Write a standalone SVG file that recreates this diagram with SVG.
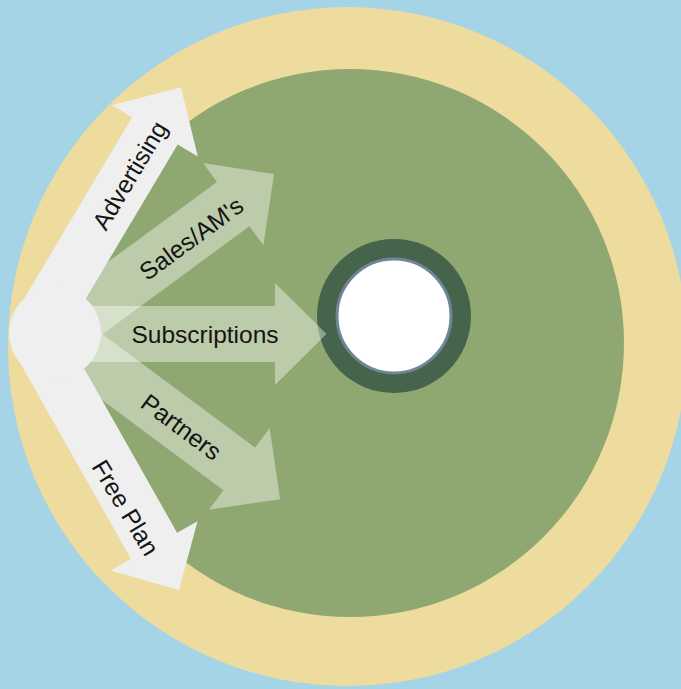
<svg xmlns="http://www.w3.org/2000/svg" width="681" height="689" viewBox="0 0 681 689">
  <style>
    .lbl { font-family: "Liberation Sans", Arial, sans-serif; font-size: 24.5px; fill: #141414; text-anchor: middle; }
    .solid { fill: #efefef; }
    .ghost { fill: #ffffff; fill-opacity: 0.4; }
  </style>
  <rect id="background" x="0" y="0" width="681" height="689" fill="#a4d4e6"/>
  <g id="outer-ring">
    <circle cx="347.5" cy="346.5" r="339.5" fill="#eedc9f"/>
  </g>
  <g id="inner-field">
    <circle cx="350" cy="343" r="274" fill="#8fa871"/>
  </g>
  <g id="target">
    <circle cx="394" cy="316" r="77" fill="#46634c"/>
    <circle cx="394" cy="316" r="57" fill="#ffffff" stroke="#6f8698" stroke-width="3"/>
  </g>
  <g id="connectors">
    <g id="sales" transform="translate(55,335) rotate(-36.3)">
      <polygon class="ghost" points="0,-27.5 221.1,-27.5 221.1,-51 271.8,0 221.1,51 221.1,27.5 0,27.5"/>
      <text class="lbl" x="167" y="11.5">Sales/AM's</text>
    </g>
    <g id="subscriptions" transform="translate(55,334)">
      <polygon class="ghost" points="0,-28 220,-28 220,-51 271.5,0 220,51 220,28 0,28"/>
      <text class="lbl" x="150" y="8.5">Subscriptions</text>
    </g>
    <g id="partners" transform="translate(55,332) rotate(36.6)">
      <polygon class="ghost" points="0,-26.6 229.5,-26.6 229.5,-51 280.4,0 229.5,51 229.5,26.6 0,26.6"/>
      <text class="lbl" x="158" y="9.5">Partners</text>
    </g>
    <g id="advertising" transform="translate(31.1,338.7) rotate(-59.22)">
      <polygon class="solid" points="17,-26.5 241.9,-26.5 241.9,-50 292.7,0 241.9,50 241.9,26.5 17,26.5"/>
    </g>
    <g id="free-plan" transform="translate(36.9,338.7) rotate(60.51)">
      <polygon class="solid" points="4,-26.5 237.9,-26.5 237.9,-50 288.7,0 237.9,50 237.9,26.5 4,26.5"/>
    </g>
  </g>
  <g id="hub">
    <circle cx="55" cy="333" r="46" fill="#efefef"/>
  </g>
  <g id="labels">
    <text class="lbl" transform="translate(29.6,338.7) rotate(-59.2)" x="191.6" y="11">Advertising</text>
    <text class="lbl" transform="translate(26.6,338.7) rotate(59.05)" x="195.8" y="10.5">Free Plan</text>
  </g>
</svg>
